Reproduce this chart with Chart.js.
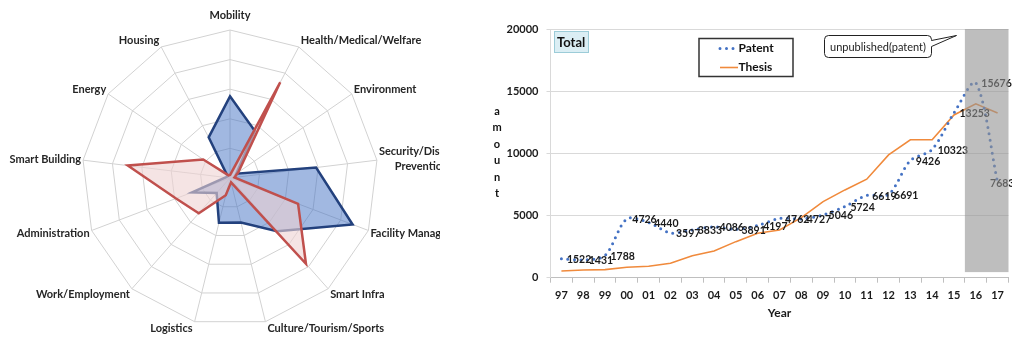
<!DOCTYPE html>
<html>
<head>
<meta charset="utf-8">
<script src="https://cdn.jsdelivr.net/npm/chart.js@4"></script>
<style>
  body { margin: 0; background: #fff; }
  #left { position: absolute; left: 0; top: 0; }
  #right { position: absolute; left: 460px; top: 0; }
</style>
</head>
<body>
<canvas id="left" width="440" height="338"></canvas>
<canvas id="right" width="552" height="338"></canvas>
<script>
"use strict";

// radar: fields of application
var fields = [
  "Mobility", "Health/Medical/Welfare", "Environment", ["Security/Disaster", "Prevention"],
  "Facility Management", "Smart Infra", "Culture/Tourism/Sports", "Logistics",
  "Work/Employment", "Administration", "Smart Building", "Energy", "Housing"
];
var patentShare = [2.76, 1.8, 0.26, 2.93, 4.43, 2.4, 1.55, 1.56, 0.68, 1.37, 0.15, 0.1, 1.55];
var thesisShare = [0.1, 3.65, 0.34, 0.15, 2.46, 3.87, 0.15, 0.6, 1.59, 1.95, 3.48, 1.1, 0.1];

// line chart: yearly totals
var years = ["97", "98", "99", "00", "01", "02", "03", "04", "05", "06", "07",
  "08", "09", "10", "11", "12", "13", "14", "15", "16", "17"];
var patentCount = [1522, 1431, 1788, 4726, 4440, 3597, 3833, 4086, 3891, 4197, 4762,
  4727, 5046, 5724, 6619, 6691, 9426, 10323, 13253, 15676, 7683];
var thesisCount = [540, 620, 650, 840, 920, 1160, 1770, 2150, 2900, 3570, 3840,
  4830, 6120, 7060, 7920, 9880, 11090, 11090, 13090, 13980, 13240];
var yTicks = [0, 5000, 10000, 15000, 20000];

Chart.defaults.font.family = "Lato";
Chart.defaults.animation = false;

//labels around the radar, placed like the original
var radarLabels = {
  id: "radarLabels",
  afterDraw: function (chart) {
    var r = chart.scales.r;
    var ctx = chart.ctx;
    ctx.save();
    ctx.font = "bold 11px Lato";
    ctx.fillStyle = "#262626";
    ctx.textBaseline = "middle";
    fields.forEach(function (label, i) {
      var a = r.getIndexAngle(i);
      var s = Math.sin(a), c = Math.cos(a);
      var p = r.getPointPosition(i, r.drawingArea);
      var lines = Array.isArray(label) ? label : [label];
      var w = Math.max.apply(null, lines.map(function (t) { return ctx.measureText(t).width; }));
      var y = p.y - 7 * c;
      var cx;
      if (Math.abs(s) < 0.05) { cx = p.x; y -= 8; }
      else if (s > 0) { cx = p.x + 2 + w / 2; }
      else { cx = p.x - 2 - w / 2; }
      ctx.textAlign = "center";
      lines.forEach(function (t, k) {
        ctx.fillText(t, cx, y + (k - (lines.length - 1) / 2) * 15);
      });
    });
    ctx.restore();
  }
};

new Chart(document.getElementById("left"), {
  type: "radar",
  data: {
    labels: fields,
    datasets: [
      {
        label: "Thesis",
        data: thesisShare,
        borderColor: "#C0504D",
        backgroundColor: "rgba(238, 210, 210, 0.6)",
        borderWidth: 2.5,
        fill: true
      },
      {
        label: "Patent",
        data: patentShare,
        borderColor: "rgb(35, 65, 125)",
        backgroundColor: "rgba(68, 114, 196, 0.5)",
        borderWidth: 2.5,
        fill: true
      }
    ]
  },
  options: {
    responsive: false,
    layout: { padding: { left: 82, right: 62, top: 30, bottom: 12 } },
    elements: { point: { radius: 0 }, line: { tension: 0, borderJoinStyle: "miter" } },
    plugins: { legend: { display: false }, tooltip: { enabled: false } },
    scales: {
      r: {
        min: 0,
        max: 5,
        ticks: { display: false, stepSize: 1 },
        grid: { color: "#d2d2d2" },
        angleLines: { color: "#d2d2d2" },
        pointLabels: { display: false }
      }
    }
  },
  plugins: [radarLabels]
});

// value labels next to the patent points
var valueLabels = {
  id: "valueLabels",
  afterDatasetsDraw: function (chart) {
    var ctx = chart.ctx;
    var meta = chart.getDatasetMeta(0);
    var last = meta.data.length - 1;
    ctx.save();
    ctx.font = "bold 10.5px Lato";
    ctx.fillStyle = "#1a1a1a";
    ctx.textAlign = "left";
    ctx.textBaseline = "middle";
    meta.data.forEach(function (pt, i) {
      // the last label is pulled back to the left, as in the original
      var x = i === last ? pt.x - 7.5 : pt.x + 5.5;
      ctx.fillText(String(patentCount[i]), x, pt.y + 1);
    });
    ctx.restore();
  }
};

// grey band, legend box, notes and the vertical axis word
var extras = {
  id: "extras",
  afterDraw: function (chart) {
    var ctx = chart.ctx;
    var area = chart.chartArea;
    var xs = chart.scales.x, ys = chart.scales.y;
    ctx.save();

    // unpublished years band
    var bandLeft = (xs.getPixelForValue(18) + xs.getPixelForValue(19)) / 2;
    var bandBottom = ys.getPixelForValue(450);
    ctx.fillStyle = "rgba(147, 147, 147, 0.6)";
    ctx.fillRect(bandLeft, area.top, area.right - bandLeft, bandBottom - area.top);

    // "Total" tag
    ctx.fillStyle = "#dbeef4";
    ctx.strokeStyle = "#9cccd8";
    ctx.lineWidth = 1;
    ctx.fillRect(94.5, 31.5, 34, 21);
    ctx.strokeRect(94.5, 31.5, 34, 21);
    ctx.fillStyle = "#111";
    ctx.font = "bold 13px Lato";
    ctx.textBaseline = "middle";
    ctx.textAlign = "left";
    ctx.fillText("Total", 97, 42.5);

    // legend box
    ctx.strokeStyle = "#333";
    ctx.lineWidth = 1.5;
    ctx.fillStyle = "#fff";
    ctx.fillRect(239, 38.5, 94, 38);
    ctx.strokeRect(239, 38.5, 94, 38);
    var ds = chart.data.datasets;
    ctx.lineCap = "round";
    ctx.strokeStyle = ds[0].borderColor;
    ctx.lineWidth = ds[0].borderWidth;
    ctx.setLineDash(ds[0].borderDash);
    ctx.beginPath(); ctx.moveTo(260, 48.5); ctx.lineTo(276, 48.5); ctx.stroke();
    ctx.setLineDash([]);
    ctx.lineCap = "butt";
    ctx.strokeStyle = ds[1].borderColor;
    ctx.lineWidth = ds[1].borderWidth;
    ctx.beginPath(); ctx.moveTo(260, 67.5); ctx.lineTo(278, 67.5); ctx.stroke();
    ctx.fillStyle = "#111";
    ctx.font = "bold 12px Lato";
    ctx.fillText(ds[0].label, 278.5, 48.5);
    ctx.fillText(ds[1].label, 278.5, 67.5);

    // callout
    var bx = 364.5, by = 35.5, bw = 107, bh = 22, rr = 4;
    ctx.beginPath();
    ctx.moveTo(bx + rr, by);
    ctx.lineTo(bx + bw - rr, by);
    ctx.quadraticCurveTo(bx + bw, by, bx + bw, by + rr);
    ctx.lineTo(bx + bw, by + 5);
    ctx.lineTo(bx + bw + 25, by);
    ctx.lineTo(bx + bw, by + 11);
    ctx.lineTo(bx + bw, by + bh - rr);
    ctx.quadraticCurveTo(bx + bw, by + bh, bx + bw - rr, by + bh);
    ctx.lineTo(bx + rr, by + bh);
    ctx.quadraticCurveTo(bx, by + bh, bx, by + bh - rr);
    ctx.lineTo(bx, by + rr);
    ctx.quadraticCurveTo(bx, by, bx + rr, by);
    ctx.closePath();
    ctx.fillStyle = "#fff";
    ctx.fill();
    ctx.strokeStyle = "#222";
    ctx.lineWidth = 1;
    ctx.stroke();
    ctx.fillStyle = "#222";
    ctx.font = "11px Lato";
    ctx.textAlign = "center";
    ctx.fillText("unpublished(patent)", bx + bw / 2, by + bh / 2 + 0.5);

    // y axis word, one letter per row
    ctx.font = "bold 11px Lato";
    ctx.fillStyle = "#111";
    "amount".split("").forEach(function (ch, i) {
      ctx.fillText(ch, 37, 111 + i * 16.5);
    });
    ctx.restore();
  }
};

new Chart(document.getElementById("right"), {
  type: "line",
  data: {
    labels: years,
    datasets: [
      {
        label: "Patent",
        data: patentCount,
        borderColor: "#4472C4",
        borderWidth: 3,
        borderDash: [0, 6.5],
        borderCapStyle: "round",
        tension: 0.3,
        pointRadius: 0,
        fill: false
      },
      {
        label: "Thesis",
        data: thesisCount,
        borderColor: "#F08A3C",
        borderWidth: 1.6,
        tension: 0,
        pointRadius: 0,
        fill: false
      }
    ]
  },
  options: {
    responsive: false,
    layout: { padding: { top: 29, right: 3.5, left: 0, bottom: 0 } },
    plugins: { legend: { display: false }, tooltip: { enabled: false } },
    scales: {
      x: {
        offset: true,
        grid: { offset: true, drawOnChartArea: false, tickLength: 5, color: "#bfbfbf" },
        border: { color: "#bfbfbf" },
        ticks: {
          autoSkip: false, maxRotation: 0, padding: 6, color: "#1a1a1a",
          font: { size: 11, weight: "bold" }
        },
        title: {
          display: true, text: "Year", color: "#1a1a1a",
          font: { size: 12, weight: "bold" }, padding: { top: 2, bottom: 18 }
        },
        afterFit: function (s) { s.height = 60.3; }
      },
      y: {
        min: 0,
        max: 20000,
        afterBuildTicks: function (s) { s.ticks = yTicks.map(function (v) { return { value: v }; }); },
        grid: { color: "#d9d9d9", tickLength: 4 },
        border: { color: "#d9d9d9" },
        ticks: {
          padding: 8, color: "#1a1a1a",
          font: { size: 11, weight: "bold" },
          callback: function (v) { return String(v); }
        },
        afterFit: function (s) { s.width = 90.5; }
      }
    }
  },
  plugins: [valueLabels, extras]
});
</script>
</body>
</html>
